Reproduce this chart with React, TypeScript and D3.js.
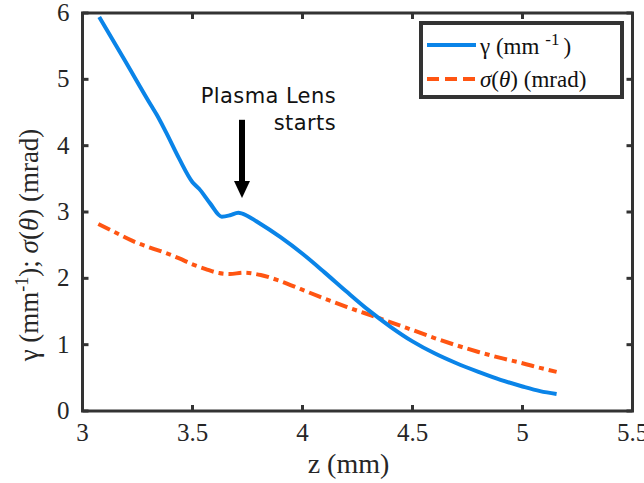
import { useEffect, useRef } from 'react'
import * as d3 from 'd3'

// gamma (mm^-1)
const zGamma = [3.076, 3.19, 3.315, 3.337, 3.38, 3.44, 3.5, 3.53, 3.58, 3.633, 3.67, 3.708, 3.75, 3.79, 3.9, 4.0, 4.1, 4.2, 4.3, 4.4, 4.5, 4.6, 4.7, 4.8, 4.9, 5.0, 5.08, 5.155]
const gammaValues = [5.94, 5.3, 4.59, 4.47, 4.2, 3.8, 3.45, 3.35, 3.13, 2.93, 2.95, 2.99, 2.94, 2.86, 2.62, 2.37, 2.09, 1.8, 1.52, 1.27, 1.05, 0.87, 0.72, 0.59, 0.47, 0.37, 0.3, 0.256]

// sigma(theta) (mrad)
const zSigma = [3.072, 3.15, 3.23, 3.31, 3.38, 3.44, 3.5, 3.56, 3.62, 3.67, 3.73, 3.81, 3.89, 3.99, 4.08, 4.2, 4.34, 4.5, 4.6, 4.7, 4.8, 4.9, 5.0, 5.08, 5.155]
const sigmaValues = [2.82, 2.69, 2.56, 2.46, 2.38, 2.3, 2.21, 2.14, 2.08, 2.065, 2.085, 2.05, 1.97, 1.84, 1.72, 1.57, 1.41, 1.22, 1.1, 0.99, 0.89, 0.8, 0.72, 0.65, 0.59]

const xTicks = [3, 3.5, 4, 4.5, 5, 5.5]
const yTicks = [0, 1, 2, 3, 4, 5, 6]
const xTickLabels = ['3', '3.5', '4', '4.5', '5', '5.5']
const yTickLabels = ['0', '1', '2', '3', '4', '5', '6']

const arrowZ = 3.725
const arrowFrom = 4.39
const arrowTo = 3.21

const WIDTH = 644
const HEIGHT = 483
const BLUE = '#0a84e8'
const ORANGE = '#ff5512'
const AXIS = '#333333'
const SERIF = '"Liberation Serif", "Times New Roman", serif'

export default function App() {
  const ref = useRef<SVGSVGElement | null>(null)

  useEffect(() => {
    document.body.style.margin = '0'
    const node = ref.current
    if (!node) return
    const svg = d3.select(node)
    svg.selectAll('*').remove()

    const m = { left: 82.5, right: 632.5, top: 13, bottom: 411 }
    const x = d3.scaleLinear().domain([3, 5.5]).range([m.left, m.right])
    const y = d3.scaleLinear().domain([0, 6]).range([m.bottom, m.top])

    svg.append('rect').attr('width', WIDTH).attr('height', HEIGHT).attr('fill', '#fff')

    const line = d3
      .line<[number, number]>()
      .x((d) => x(d[0]))
      .y((d) => y(d[1]))
      .curve(d3.curveMonotoneX)

    const gammaPts = zGamma.map((z, i) => [z, gammaValues[i]] as [number, number])
    const sigmaPts = zSigma.map((z, i) => [z, sigmaValues[i]] as [number, number])

    svg
      .append('path')
      .attr('d', line(sigmaPts))
      .attr('fill', 'none')
      .attr('stroke', ORANGE)
      .attr('stroke-width', 4)
      .attr('stroke-dasharray', '13 5 5 5')

    svg
      .append('path')
      .attr('d', line(gammaPts))
      .attr('fill', 'none')
      .attr('stroke', BLUE)
      .attr('stroke-width', 4)

    // axes box with inward ticks
    const ax = svg.append('g').attr('stroke', AXIS).attr('stroke-width', 3).attr('fill', 'none')
    ax.append('rect')
      .attr('x', m.left)
      .attr('y', m.top)
      .attr('width', m.right - m.left)
      .attr('height', m.bottom - m.top)
    const tl = 6
    xTicks.forEach((t) => {
      ax.append('line').attr('x1', x(t)).attr('x2', x(t)).attr('y1', m.bottom).attr('y2', m.bottom - tl)
      ax.append('line').attr('x1', x(t)).attr('x2', x(t)).attr('y1', m.top).attr('y2', m.top + tl)
    })
    yTicks.forEach((t) => {
      ax.append('line').attr('x1', m.left).attr('x2', m.left + tl).attr('y1', y(t)).attr('y2', y(t))
      ax.append('line').attr('x1', m.right).attr('x2', m.right - tl).attr('y1', y(t)).attr('y2', y(t))
    })

    const labels = svg.append('g').attr('font-family', SERIF).attr('font-size', 25).attr('fill', '#262626')
    xTicks.forEach((t, i) => {
      labels.append('text').attr('x', x(t)).attr('y', m.bottom + 30).attr('text-anchor', 'middle').text(xTickLabels[i])
    })
    yTicks.forEach((t, i) => {
      labels.append('text').attr('x', m.left - 13).attr('y', y(t) + 8).attr('text-anchor', 'end').text(yTickLabels[i])
    })

    // x label
    svg
      .append('text')
      .attr('x', (m.left + m.right) / 2 - 9)
      .attr('y', 473)
      .attr('text-anchor', 'middle')
      .attr('font-family', SERIF)
      .attr('font-size', 28)
      .attr('fill', '#262626')
      .text('z (mm)')

    // y label
    const yl = svg
      .append('text')
      .attr('transform', 'translate(38,245) rotate(-90)')
      .attr('text-anchor', 'middle')
      .attr('font-family', SERIF)
      .attr('font-size', 27)
      .attr('fill', '#262626')
    yl.append('tspan').text('γ (mm')
    yl.append('tspan').attr('dy', -10).attr('font-size', 18).text('-1')
    yl.append('tspan').attr('dy', 10).text(');  ')
    yl.append('tspan').attr('font-style', 'italic').text('σ')
    yl.append('tspan').text('(')
    yl.append('tspan').attr('font-style', 'italic').text('θ')
    yl.append('tspan').text(') (mrad)')

    // annotation
    const ann = svg
      .append('g')
      .attr('font-family', '"DejaVu Sans", sans-serif')
      .attr('font-size', 21)
      .attr('letter-spacing', 0.4)
      .attr('fill', '#111')
    ann.append('text').attr('x', 336).attr('y', 103).attr('text-anchor', 'end').text('Plasma Lens')
    ann.append('text').attr('x', 336).attr('y', 130).attr('text-anchor', 'end').text('starts')
    const ax0 = x(arrowZ)
    svg
      .append('line')
      .attr('x1', ax0)
      .attr('x2', ax0)
      .attr('y1', y(arrowFrom))
      .attr('y2', y(arrowTo) - 14)
      .attr('stroke', '#000')
      .attr('stroke-width', 6)
    svg
      .append('path')
      .attr('d', `M${ax0 - 8},${y(arrowTo) - 17}L${ax0 + 8},${y(arrowTo) - 17}L${ax0},${y(arrowTo)}Z`)
      .attr('fill', '#000')

    // legend
    const lg = svg.append('g')
    lg.append('rect')
      .attr('x', 421)
      .attr('y', 23)
      .attr('width', 201)
      .attr('height', 74)
      .attr('fill', '#fff')
      .attr('stroke', AXIS)
      .attr('stroke-width', 4)
    lg.append('line').attr('x1', 427).attr('x2', 476).attr('y1', 45).attr('y2', 45).attr('stroke', BLUE).attr('stroke-width', 4)
    lg.append('line')
      .attr('x1', 427)
      .attr('x2', 476)
      .attr('y1', 79)
      .attr('y2', 79)
      .attr('stroke', ORANGE)
      .attr('stroke-width', 4)
      .attr('stroke-dasharray', '12 6')
    const t1 = lg.append('text').attr('x', 480).attr('y', 54).attr('font-family', SERIF).attr('font-size', 23).attr('fill', '#111')
    t1.append('tspan').text('γ (mm')
    t1.append('tspan').attr('dy', -9).attr('dx', 6).attr('font-size', 17).text('-1')
    t1.append('tspan').attr('dy', 9).attr('dx', 4).text(')')
    const t2 = lg.append('text').attr('x', 480).attr('y', 87).attr('font-family', SERIF).attr('font-size', 23).attr('fill', '#111')
    t2.append('tspan').attr('font-style', 'italic').text('σ')
    t2.append('tspan').text('(')
    t2.append('tspan').attr('font-style', 'italic').text('θ')
    t2.append('tspan').text(') (mrad)')
  }, [])

  return <svg ref={ref} width={WIDTH} height={HEIGHT} style={{ display: 'block' }} />
}
